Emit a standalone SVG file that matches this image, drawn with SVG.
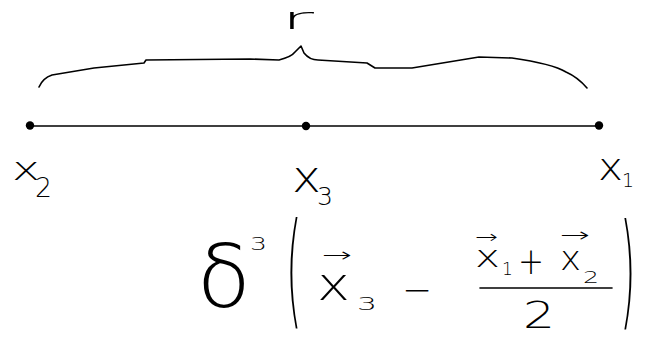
<svg xmlns="http://www.w3.org/2000/svg" width="650" height="342" viewBox="0 0 650 342">
<style>
.t{font-family:"DejaVu Sans","Liberation Sans",sans-serif;fill:#000;font-weight:200}
.ln{fill:none;stroke:#000;stroke-width:1.6;stroke-linecap:round;stroke-linejoin:round}
</style>
<rect width="650" height="342" fill="#fff"/>
<g id="brace">
<path class="ln" d="M39,87 C42,80 46,77 52,75 L94,68 L144,63 L146,60 L250,59 L279,60 C287,58 292,56 295,52 L301,46 L304,53 C308,58 312,60 318,60 L367,63 L375,68 L412,68 L479,57 L512,58 C540,62 556,66 566,72 C575,76 581,81 587,88"/>
<text class="t" x="281" y="29" font-size="30" textLength="33" lengthAdjust="spacingAndGlyphs">r</text>
</g>
<g id="connectors">
<line class="ln" x1="30" y1="126" x2="599" y2="126"/>
</g>
<g id="node-x2">
<circle cx="30" cy="125.5" r="4.2"/>
<text class="t" x="12" y="180" font-size="32" textLength="28" lengthAdjust="spacingAndGlyphs">x</text>
<text class="t" x="35" y="197" font-size="26" textLength="17" lengthAdjust="spacingAndGlyphs">2</text>
</g>
<g id="node-x3">
<circle cx="306" cy="126" r="4.2"/>
<text class="t" x="292" y="192" font-size="44" textLength="29" lengthAdjust="spacingAndGlyphs">x</text>
<text class="t" x="317" y="205" font-size="24" textLength="16" lengthAdjust="spacingAndGlyphs">3</text>
</g>
<g id="node-x1">
<circle cx="599" cy="125.5" r="4.2"/>
<text class="t" x="598" y="180" font-size="38" textLength="25" lengthAdjust="spacingAndGlyphs">x</text>
<text class="t" x="622" y="187" font-size="19">1</text>
</g>
<g id="formula">
<text class="t" x="197" y="307" font-size="88">δ</text>
<text class="t" x="250" y="250" font-size="18" textLength="17" lengthAdjust="spacingAndGlyphs">3</text>
<text class="t" x="286" y="0" font-size="40" transform="translate(0,312) scale(1,3.1)">(</text>
<text class="t" x="322" y="262" font-size="20" textLength="30" lengthAdjust="spacingAndGlyphs">→</text>
<text class="t" x="317" y="300" font-size="46" textLength="33" lengthAdjust="spacingAndGlyphs">x</text>
<text class="t" x="357" y="310" font-size="18" textLength="20" lengthAdjust="spacingAndGlyphs">3</text>
<text class="t" x="402" y="302" font-size="36" textLength="30" lengthAdjust="spacingAndGlyphs">−</text>
<text class="t" x="475" y="243" font-size="18" textLength="23" lengthAdjust="spacingAndGlyphs">→</text>
<text class="t" x="475" y="267" font-size="31" textLength="25" lengthAdjust="spacingAndGlyphs">x</text>
<text class="t" x="502" y="275" font-size="17">1</text>
<text class="t" x="518" y="274" font-size="38" textLength="26" lengthAdjust="spacingAndGlyphs">+</text>
<text class="t" x="560" y="242" font-size="20" textLength="30" lengthAdjust="spacingAndGlyphs">→</text>
<text class="t" x="560" y="270" font-size="34" textLength="21" lengthAdjust="spacingAndGlyphs">x</text>
<text class="t" x="583" y="283" font-size="16" textLength="16" lengthAdjust="spacingAndGlyphs">2</text>
<line class="ln" x1="480" y1="288" x2="612" y2="288"/>
<text class="t" x="523" y="328" font-size="38" textLength="32" lengthAdjust="spacingAndGlyphs">2</text>
<text class="t" x="620" y="0" font-size="40" transform="translate(0,313) scale(1,3.1)">)</text>
</g>
</svg>
